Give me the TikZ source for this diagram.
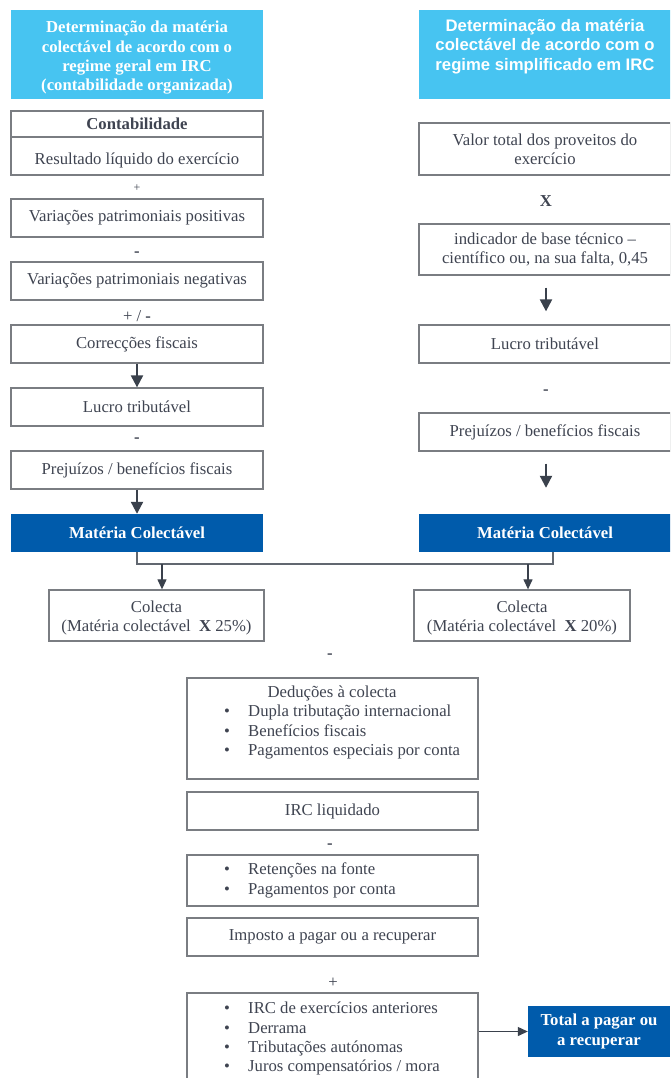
\documentclass[tikz,border=0pt]{standalone}
\usepackage{fontspec}
\setmainfont{Liberation Serif}
\newfontfamily\titlesans{Liberation Sans}
\usetikzlibrary{arrows.meta,calc}
\definecolor{lightblue}{HTML}{47C4F1}
\definecolor{darkblue}{HTML}{005BAB}
\definecolor{txt}{HTML}{3F4451}
\definecolor{edgegray}{HTML}{7A7D82}
\definecolor{arr}{HTML}{3A414C}
\newcommand\mainfs{\fontsize{16.7}{19.3}\selectfont}
\newcommand\smallfs{\fontsize{12}{14}\selectfont}
\newcommand\bul{\makebox[24pt][l]{\textbullet}}
\tikzset{
  box/.style={draw=edgegray, line width=1.3pt, fill=white, text=txt, align=center, inner sep=0pt, font=\mainfs},
  lbox/.style={box, minimum width=252pt},
  rbox/.style={box, minimum width=252pt},
  titlebox/.style={draw=none, fill=lightblue, text=white, align=center, inner sep=0pt, minimum width=252pt, minimum height=89pt},
  mcbox/.style={draw=none, fill=darkblue, text=white, align=center, inner sep=0pt, font=\mainfs\bfseries},
  op/.style={text=txt, font=\mainfs, inner sep=0pt},
  listtxt/.style={text=txt, font=\mainfs, align=left, inner sep=0pt, anchor=north west},
  plaintxt/.style={text=txt, font=\mainfs, inner sep=0pt},
  bigarrow/.style={draw=arr, line width=2.2pt, -{Triangle[width=12pt,length=12pt]}},
  smallarrow/.style={draw=arr, line width=1.2pt, -{Triangle[width=9pt,length=10pt]}},
  conn/.style={draw=arr!80!white, line width=1.1pt}
}
\begin{document}
\begin{tikzpicture}[x=1pt,y=-1pt]
\clip (0,0) rectangle (670,1078);
\fill[white] (0,0) rectangle (670,1078);

% ---------- left column ----------
\node[titlebox, font=\mainfs\bfseries] (t1) at (137,54.5) {\rule{0pt}{18pt}Determinação da matéria\\colectável de acordo com o\\regime geral em IRC\\(contabilidade organizada)};
\node[lbox, minimum height=26pt, font=\mainfs\bfseries] (cont) at (137,124) {Contabilidade};
\node[lbox, minimum height=38pt] (res) at (137,156) {\rule{0pt}{21pt}Resultado líquido do exercício};
\node[op, font=\smallfs] (o1) at (137,188) {+};
\node[lbox, minimum height=38pt] (vpos) at (137,218) {Variações patrimoniais positivas};
\node[op, font=\mainfs\bfseries] (o2) at (137,254) {-};
\node[lbox, minimum height=38pt] (vneg) at (137,281) {Variações patrimoniais negativas};
\node[op] (o3) at (137,316) {+ / \textbf{-}};
\node[lbox, minimum height=38pt] (corr) at (137,344) {Correcções fiscais};
\node[lbox, minimum height=38pt] (luc1) at (137,407) {Lucro tributável};
\node[op, font=\mainfs\bfseries] (o4) at (137,440) {-};
\node[lbox, minimum height=38pt] (prej1) at (137,470) {Prejuízos / benefícios fiscais};
\node[mcbox, minimum width=252pt, minimum height=38pt] (mc1) at (137,533) {Matéria Colectável};
\draw[bigarrow] (corr.south) -- (luc1.north);
\draw[bigarrow] (prej1.south) -- (mc1.north);

% ---------- right column ----------
\node[titlebox, font=\titlesans\mainfs\bfseries] (t2) at (545,54.5) {Determinação da matéria\\colectável de acordo com o\\regime simplificado em IRC\\~};
\node[rbox, minimum height=52pt] (val) at (545,149) {Valor total dos proveitos do\\exercício};
\node[op, font=\mainfs\bfseries] (o5) at (546,201) {X};
\node[rbox, minimum height=51pt] (ind) at (545,249.5) {indicador de base técnico –\\científico ou, na sua falta, 0,45};
\node[rbox, minimum height=38pt] (luc2) at (545,344) {Lucro tributável};
\node[op, font=\mainfs\bfseries] (o6) at (546,392) {-};
\node[rbox, minimum height=38pt] (prej2) at (545,432) {Prejuízos / benefícios fiscais};
\node[mcbox, minimum width=252pt, minimum height=38pt] (mc2) at (545,533) {Matéria Colectável};
\draw[bigarrow, shorten <=12pt, shorten >=13pt] ($(ind.south)+(1,0)$) -- ($(luc2.north)+(1,0)$);
\draw[bigarrow, shorten <=12pt, shorten >=26pt] ($(prej2.south)+(1,0)$) -- ($(mc2.north)+(1,0)$);

% ---------- junction to colecta ----------
\node[box, minimum width=215pt, minimum height=51pt] (col1) at (156.5,615.5) {\rule{0pt}{16pt}Colecta\\(Matéria colectável \ \textbf{X} 25\%)};
\node[box, minimum width=216pt, minimum height=51pt] (col2) at (522,615.5) {\rule{0pt}{16pt}Colecta\\(Matéria colectável \ \textbf{X} 20\%)};
\coordinate (jR) at (553,564);
\coordinate (jA) at (162,564);
\coordinate (jB) at (528,564);
\draw[conn] (mc1.south) |- (jR) -- (jR |- mc2.south);
\draw[smallarrow] (jA) -- (jA |- col1.north);
\draw[smallarrow] (jB) -- (jB |- col2.north);

% ---------- bottom column ----------
\node[op, font=\mainfs\bfseries] (o7) at (330,656) {-};
\node[box, minimum width=291pt, minimum height=101pt] (ded) at (332.5,728.5) {};
\node[plaintxt] (dedh) at (332,693) {Deduções à colecta};
\node[listtxt] (dedl) at (224,705) {\bul Dupla tributação internacional\\\bul Benefícios fiscais\\\bul Pagamentos especiais por conta};
\node[box, minimum width=291pt, minimum height=38pt] (irc) at (332.5,811) {IRC liquidado};
\node[op, font=\mainfs\bfseries] (o8) at (330,846) {-};
\node[box, minimum width=291pt, minimum height=51pt] (ret) at (332.5,880.5) {};
\node[listtxt] (retl) at (224,863) {\bul Retenções na fonte\\\bul Pagamentos por conta};
\node[box, minimum width=291pt, minimum height=38pt] (imp) at (332.5,937) {Imposto a pagar ou a recuperar};
\node[op] (o9) at (333,983) {+};
\node[box, minimum width=291pt, minimum height=100pt] (last) at (332.5,1043) {};
\node[listtxt] (lastl) at (224,1002) {\bul IRC de exercícios anteriores\\\bul Derrama\\\bul Tributações autónomas\\\bul Juros compensatórios / mora};
\node[mcbox, minimum width=142pt, minimum height=51pt] (total) at (599,1031.5) {Total a pagar ou\\a recuperar};
\draw[smallarrow] (last.east |- total.west) -- (total.west);
\end{tikzpicture}
\end{document}
